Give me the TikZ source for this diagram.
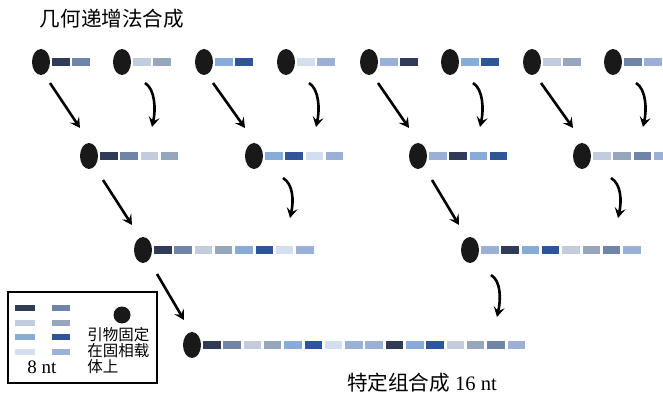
\documentclass[tikz,border=0pt]{standalone}
\usepackage{fontspec}
\setmainfont{Liberation Serif}
\newfontfamily\cjk{Noto Sans CJK SC}
\usetikzlibrary{shapes.geometric,arrows.meta}
\definecolor{ntA}{HTML}{2F3B57}
\definecolor{ntB}{HTML}{6F84A6}
\definecolor{ntC}{HTML}{C3CCDC}
\definecolor{ntD}{HTML}{95A6BD}
\definecolor{ntE}{HTML}{87ACD8}
\definecolor{ntF}{HTML}{2E5597}
\definecolor{ntG}{HTML}{D3DFEE}
\definecolor{ntH}{HTML}{9AB0D6}
\tikzset{
  bead/.style={ellipse, fill=black!90, inner sep=0pt, minimum width=9pt, minimum height=13pt},
  base/.style={rectangle, inner sep=0pt, minimum width=8.75pt, minimum height=4pt},
  link/.style={line width=1.3pt, -{Stealth[length=5pt,width=5.5pt,inset=2pt]}}
}
\newcommand{\strand}[4]{%
  \node[bead] (#1) at (#2,#3) {};
  \foreach \c [count=\i from 0] in {#4}
    \node[base, fill=\c] (#1-\i) at ({#2+19.75+20.3*\i},#3) {};
}
\newcommand{\bendlink}[4]{%
  \draw[link] ([shift={#2}]#1.center) .. controls +(10,6) and +(4,-18) .. ([shift={#4}]#3.center);
}

\begin{document}
\begin{tikzpicture}[x=0.5pt, y=-0.5pt]
  \useasboundingbox (0,0) rectangle (663,406);

  \node (title) at (112,19) {\cjk\fontsize{10.3}{12}\selectfont 几何递增法合成};

  \strand{t1}{41}{62}{ntA,ntB}
  \strand{t2}{122}{62}{ntC,ntD}
  \strand{t3}{204}{62}{ntE,ntF}
  \strand{t4}{286}{62}{ntG,ntH}
  \strand{t5}{369}{62}{ntH,ntA}
  \strand{t6}{450}{62}{ntE,ntF}
  \strand{t7}{532}{62}{ntC,ntD}
  \strand{t8}{613}{62}{ntB,ntH}

  \strand{m1}{89}{156}{ntA,ntB,ntC,ntD}
  \strand{m2}{254}{156}{ntE,ntF,ntG,ntH}
  \strand{m3}{418}{156}{ntH,ntA,ntE,ntF}
  \strand{m4}{582}{156}{ntC,ntD,ntB,ntH}

  \strand{l1}{143}{250}{ntA,ntB,ntC,ntD,ntE,ntF,ntG,ntH}
  \strand{l2}{470}{250}{ntH,ntA,ntE,ntF,ntC,ntD,ntB,ntH}

  \strand{f}{192}{345}{ntA,ntB,ntC,ntD,ntE,ntF,ntG,ntH,ntH,ntA,ntE,ntF,ntC,ntD,ntB,ntH}

  \draw[link] ([shift={(9,21)}]t1.center) -- ([shift={(-9,-28)}]m1.center);
  \draw[link] ([shift={(9,21)}]t3.center) -- ([shift={(-9,-28)}]m2.center);
  \draw[link] ([shift={(9,21)}]t5.center) -- ([shift={(-9,-28)}]m3.center);
  \draw[link] ([shift={(9,21)}]t7.center) -- ([shift={(-9,-28)}]m4.center);
  \draw[link] ([shift={(14,24)}]m1.center) -- ([shift={(-11,-25)}]l1.center);
  \draw[link] ([shift={(14,24)}]m3.center) -- ([shift={(-11,-25)}]l2.center);
  \draw[link] ([shift={(14,24)}]l1.center) -- ([shift={(-8,-25)}]f.center);

  \bendlink{t2}{(23,21)}{m1}{(63,-29)}
  \bendlink{t4}{(23,21)}{m2}{(62,-29)}
  \bendlink{t6}{(23,21)}{m3}{(62,-29)}
  \bendlink{t8}{(23,21)}{m4}{(61,-29)}
  \bendlink{m2}{(29,22)}{l1}{(147,-32)}
  \bendlink{m4}{(29,22)}{l2}{(148,-32)}
  \bendlink{l2}{(21,25)}{f}{(305,-28)}

  \node[draw, line width=1pt, minimum width=74.5pt, minimum height=45.5pt, inner sep=0pt] (legend) at (82.5,337.5) {};
  \foreach \c [count=\i from 0] in {ntA,ntC,ntE,ntG}
    \node[base, fill=\c, minimum width=10pt, minimum height=3pt] (key-a\i) at (25,{308+14.7*\i}) {};
  \foreach \c [count=\i from 0] in {ntB,ntD,ntF,ntH}
    \node[base, fill=\c, minimum width=9pt, minimum height=3pt] (key-b\i) at (61,{308+14.7*\i}) {};
  \node[circle, fill=black!90, inner sep=0pt, minimum size=8.5pt] (key-bead) at (122,315) {};
  \node[anchor=west, align=left, inner sep=0pt, font=\cjk\fontsize{7.75}{8}\selectfont] (key-text) at (87,351) {引物固定\\在固相载\\体上};
  \node[font=\fontsize{9.5}{11}\selectfont] (key-len) at (42,367) {8 nt};

  \node (label) at (422,383) {\fontsize{10.3}{12}\selectfont{\cjk 特定组合成} 16 nt};
\end{tikzpicture}
\end{document}
